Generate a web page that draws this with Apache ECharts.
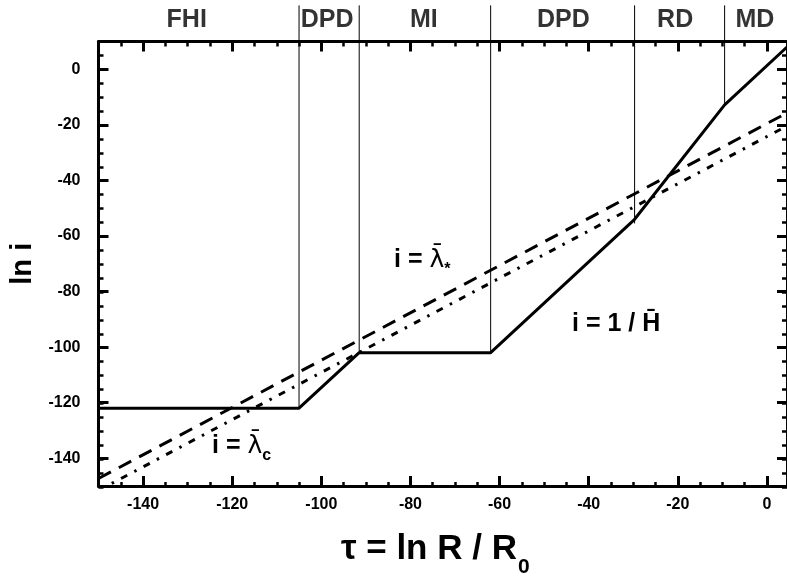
<!DOCTYPE html>
<html>
<head>
<meta charset="utf-8">
<title>ln i vs tau</title>
<script src="https://cdn.jsdelivr.net/npm/echarts@6/dist/echarts.min.js"></script>
</head>
<body style="margin:0; background:#fff;">
<div id="main" style="width:787px; height:583px;"></div>
<script type="text/javascript">

// i = 1 / H  (solid)
var tauH = [-150, -105, -91.5, -62, -29.7, -9.5, 4.5];
var lnH = [-122, -122, -102, -102, -54, -12.8, 8];
// i = lambda*  (long dashes)
var tauStar = [-150, 4.5];
var lnStar = [-147.3, -15.7];
// i = lambda_c  (dash dot)
var tauC = [-150, 4.5];
var lnC = [-151.6, -20.4];

// regime boundaries
var boundX = [-105, -91.5, -62, -29.7, -9.5];
var boundLow = [-122, -102, -102, -55.5, -12.8];
var boundTop = 23;

var regionNames = ['FHI', 'DPD', 'MI', 'DPD', 'RD', 'MD'];
var regionX = [-130.2, -98.7, -77, -45.7, -20.6, -2.7];
var regionY = 17.7;

var xTicks = [-140, -120, -100, -80, -60, -40, -20, 0];
var yTicks = [-140, -120, -100, -80, -60, -40, -20, 0];

var xMin = -150, xMax = 4.5, yMin = -150, yMax = 10;
var font = 'Liberation Sans';

var chartDom = document.getElementById('main');
var myChart = echarts.init(chartDom);

var gridBox = { left: 98.5, top: 41.5, width: 690.5, height: 445.4 };

function xAxisFor(grid, pos, major) {
  return {
    type: 'value', gridIndex: grid, position: pos, min: xMin, max: xMax,
    interval: major ? undefined : 5,
    splitLine: { show: false },
    axisLine: { show: major, onZero: false, lineStyle: { color: '#000', width: 3 } },
    axisTick: major
      ? { show: true, inside: true, length: 10, customValues: xTicks, lineStyle: { color: '#000', width: 3 } }
      : { show: true, inside: true, length: 5, lineStyle: { color: '#000', width: 2.5 } },
    axisLabel: (major && pos === 'bottom')
      ? { show: true, customValues: xTicks, margin: 11, color: '#000', fontFamily: font, fontWeight: 'bold', fontSize: 16 }
      : { show: false }
  };
}

function yAxisFor(grid, pos, major) {
  return {
    type: 'value', gridIndex: grid, position: pos, min: yMin, max: yMax,
    interval: major ? undefined : 5,
    splitLine: { show: false },
    axisLine: { show: major, onZero: false, lineStyle: { color: '#000', width: 3 } },
    axisTick: major
      ? { show: true, inside: true, length: 10, customValues: yTicks, lineStyle: { color: '#000', width: 3 } }
      : { show: true, inside: true, length: 5, lineStyle: { color: '#000', width: 2.5 } },
    axisLabel: (major && pos === 'left')
      ? { show: true, customValues: yTicks, margin: 18, color: '#000', fontFamily: font, fontWeight: 'bold', fontSize: 16 }
      : { show: false }
  };
}

var xAxes = [xAxisFor(0, 'bottom', true), xAxisFor(0, 'top', true), xAxisFor(1, 'bottom', false), xAxisFor(1, 'top', false)];
var yAxes = [yAxisFor(0, 'left', true), yAxisFor(0, 'right', true), yAxisFor(1, 'left', false), yAxisFor(1, 'right', false)];

xAxes[0].name = '{a|\u03c4 = ln R / R}{b|0}';
xAxes[0].nameLocation = 'middle';
xAxes[0].nameGap = 46;
xAxes[0].nameTextStyle = {
  padding: [0, 15, 0, 0],
  rich: {
    a: { fontFamily: font, fontWeight: 'bold', fontSize: 35, color: '#000', verticalAlign: 'top', lineHeight: 40 },
    b: { fontFamily: font, fontWeight: 'bold', fontSize: 21, color: '#000', verticalAlign: 'bottom', lineHeight: 14, padding: [0, 0, 0, 1] }
  }
};
xAxes[0].nameTextStyle.rich.a.lineHeight = 46;
yAxes[0].name = 'ln i';
yAxes[0].nameLocation = 'middle';
yAxes[0].nameGap = 60;
yAxes[0].nameTextStyle = { fontFamily: font, fontWeight: 'bold', fontSize: 29, color: '#000' };

function pairs(xs, ys) {
  return xs.map(function (x, i) { return [x, ys[i]]; });
}

var series = [
  {
    name: 'i = 1/H', type: 'line', data: pairs(tauH, lnH), showSymbol: false, symbol: 'none',
    lineStyle: { color: '#000', width: 3 }, z: 5
  },
  {
    name: 'i = lambda*', type: 'line', data: pairs(tauStar, lnStar), symbol: 'none',
    lineStyle: { color: '#000', width: 3, type: [14, 9] }
  },
  {
    name: 'i = lambda_c', type: 'line', data: pairs(tauC, lnC), symbol: 'none',
    lineStyle: { color: '#000', width: 3, type: [7, 8, 2.5, 8] }
  }
];

boundX.forEach(function (x, i) {
  series.push({
    type: 'line', data: [[x, boundLow[i]], [x, boundTop]], symbol: 'none', clip: false,
    lineStyle: { color: '#000', width: 1 }, silent: true
  });
});

series.push({
  type: 'scatter', clip: false, symbolSize: 1, itemStyle: { color: 'transparent' },
  data: regionNames.map(function (n, i) { return { name: n, value: [regionX[i], regionY] }; }),
  label: {
    show: true, position: 'inside', formatter: '{b}',
    fontFamily: font, fontWeight: 'bold', fontSize: 25, color: '#000'
  }
});

var annoRich = {
  m: { fontFamily: font, fontWeight: 'bold', fontSize: 25, fill: '#000', verticalAlign: 'top', lineHeight: 30 },
  g: { fontFamily: 'DejaVu Sans', fontWeight: 'normal', fontSize: 25, fill: '#000', verticalAlign: 'top', lineHeight: 30 },
  s: { fontFamily: font, fontWeight: 'bold', fontSize: 16, fill: '#000', verticalAlign: 'bottom', lineHeight: 14 }
};

var option = {
  backgroundColor: '#fff',
  animation: false,
  grid: [
    Object.assign({}, gridBox),
    Object.assign({}, gridBox)
  ],
  xAxis: xAxes,
  yAxis: yAxes,
  series: series,
  graphic: [
    { type: 'text', x: 394, y: 248, style: { text: '{m|i = }{g|\u03bb\u0304}{s|*}', rich: annoRich } },
    { type: 'text', x: 572, y: 312, style: { text: '{m|i = 1 / H\u0304}', rich: annoRich } },
    { type: 'text', x: 212, y: 434, style: { text: '{m|i = }{g|\u03bb\u0304}{s|c}', rich: annoRich } }
  ]
};

option && myChart.setOption(option);
</script>
</body>
</html>
